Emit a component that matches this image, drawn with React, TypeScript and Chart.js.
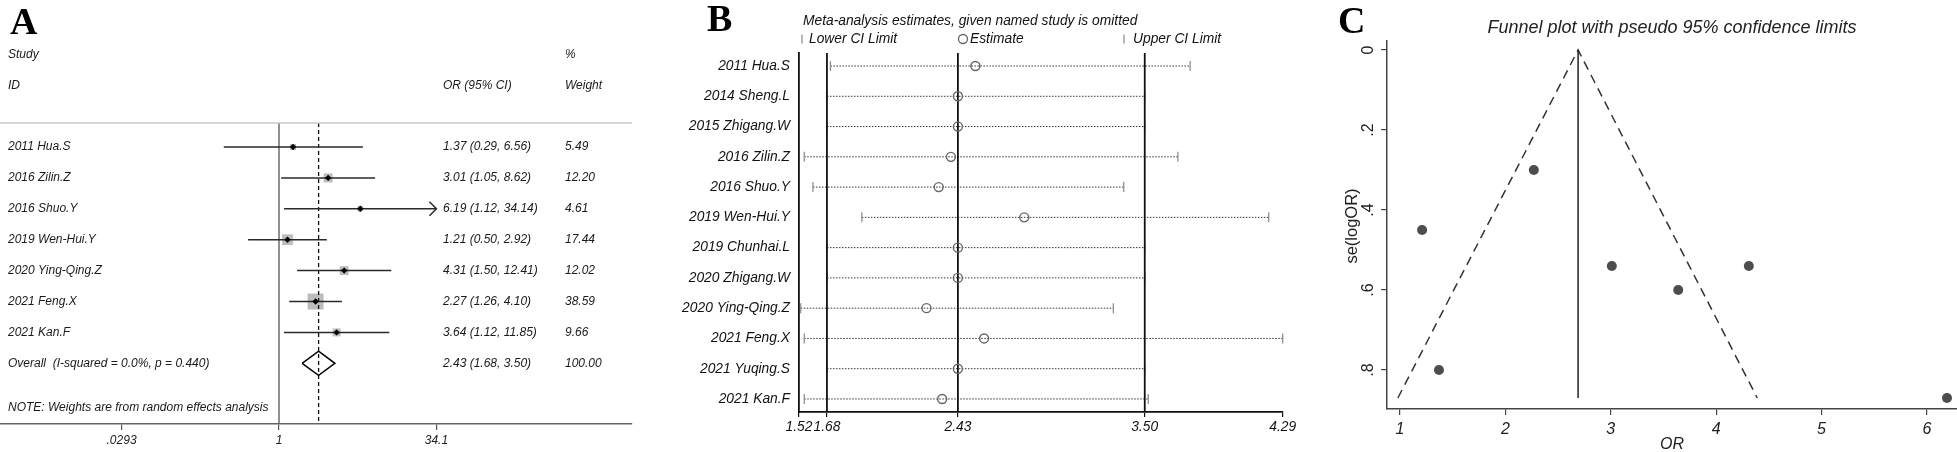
import React, { useEffect, useRef } from "react";
import { Chart, registerables } from "chart.js";

Chart.register(...registerables);

const SANS = '"Liberation Sans", Arial, Helvetica, sans-serif';
const SERIF = '"Liberation Serif", "Times New Roman", serif';

// ---------- Panel A: forest plot ----------
const A_STUDIES = ["2011 Hua.S", "2016 Zilin.Z", "2016 Shuo.Y", "2019 Wen-Hui.Y", "2020 Ying-Qing.Z", "2021 Feng.X", "2021 Kan.F"];
const A_OR = [1.37, 3.01, 6.19, 1.21, 4.31, 2.27, 3.64];
const A_LO = [0.29, 1.05, 1.12, 0.5, 1.5, 1.26, 1.12];
const A_HI = [6.56, 8.62, 34.14, 2.92, 12.41, 4.1, 11.85];
const A_WEIGHT = [5.49, 12.2, 4.61, 17.44, 12.02, 38.59, 9.66];
const A_OVERALL = [2.43, 1.68, 3.5]; // OR, lower, upper
const A_OVERALL_WEIGHT = 100.0;
const A_OVERALL_LABEL = "Overall  (I-squared = 0.0%, p = 0.440)";
const A_NOTE = "NOTE: Weights are from random effects analysis";
const A_TICKS = [0.0293, 1, 34.1];
const A_TICK_LABELS = [".0293", "1", "34.1"];

// ---------- Panel B: influence analysis ----------
const B_STUDIES = [
  "2011 Hua.S", "2014 Sheng.L", "2015 Zhigang.W", "2016 Zilin.Z", "2016 Shuo.Y", "2019 Wen-Hui.Y",
  "2019 Chunhai.L", "2020 Zhigang.W", "2020 Ying-Qing.Z", "2021 Feng.X", "2021 Yuqing.S", "2021 Kan.F",
];
const B_EST = [2.53, 2.43, 2.43, 2.39, 2.32, 2.81, 2.43, 2.43, 2.25, 2.58, 2.43, 2.34];
const B_LO = [1.7, 1.68, 1.68, 1.55, 1.6, 1.88, 1.68, 1.68, 1.53, 1.55, 1.68, 1.55];
const B_HI = [3.76, 3.5, 3.5, 3.69, 3.38, 4.21, 3.5, 3.5, 3.32, 4.29, 3.5, 3.52];
const B_REF = [1.68, 2.43, 3.5];
const B_TICKS = [1.52, 1.68, 2.43, 3.5, 4.29];
const B_TICK_LABELS = ["1.52", "1.68", "2.43", "3.50", "4.29"];
const B_TITLE = "Meta-analysis estimates, given named study is omitted";

// ---------- Panel C: funnel plot ----------
const C_OR = [1.37, 3.01, 6.19, 1.21, 4.31, 2.27, 3.64];
const C_SE = [0.8, 0.54, 0.87, 0.45, 0.54, 0.3, 0.6];
const C_FUNNEL_X = [0.98, 2.69, 4.39];
const C_FUNNEL_Y = [0.87, 0, 0.87];
const C_CENTER = 2.69;
const C_X_TICKS = [1, 2, 3, 4, 5, 6];
const C_Y_TICKS = [0, 0.2, 0.4, 0.6, 0.8];
const C_Y_TICK_LABELS = ["0", ".2", ".4", ".6", ".8"];
const C_TITLE = "Funnel plot with pseudo 95% confidence limits";

const f = (size: number, style = "italic", weight = "normal", family = SANS) => `${style} ${weight} ${size}px ${family}`;

const baseOptions = (padding: any) => ({
  animation: false as const,
  responsive: false,
  devicePixelRatio: 1,
  events: [] as any[],
  layout: { autoPadding: false, padding },
  plugins: { legend: { display: false }, tooltip: { enabled: false }, title: { display: false } },
});

function makeA(canvas: HTMLCanvasElement) {
  const yMin = -0.777;
  const yMax = 8.964;
  const n = A_STUDIES.length;
  const [ovOr, ovLo, ovHi] = A_OVERALL;
  const xMax = A_TICKS[A_TICKS.length - 1];
  const maxW = Math.max(...A_WEIGHT);
  const datasets: any[] = [
    { type: "line", data: [{ x: 1, y: yMin }, { x: 1, y: yMax }], borderColor: "#555", borderWidth: 1.3, pointRadius: 0, order: 10 },
    {
      type: "scatter",
      data: A_OR.map((v, i) => ({ x: v, y: i })),
      pointStyle: "rect",
      pointRadius: A_WEIGHT.map((w) => (16 * Math.sqrt(w / maxW)) / Math.SQRT2),
      backgroundColor: "#bdbdbd",
      borderColor: "#bdbdbd",
      borderWidth: 0,
      order: 8,
      clip: false,
    },
    { type: "line", data: [{ x: ovOr, y: yMin }, { x: ovOr, y: yMax }], borderColor: "#111", borderWidth: 1.3, borderDash: [4, 3], pointRadius: 0, order: 6 },
    ...A_OR.map((_, i) => ({
      type: "line",
      data: [{ x: A_LO[i], y: i }, { x: Math.min(A_HI[i], xMax), y: i }],
      borderColor: "#2a2a2a",
      borderWidth: 1.5,
      pointRadius: 0,
      order: 5,
    })),
    {
      type: "line",
      data: [{ x: ovLo, y: n }, { x: ovOr, y: n - 0.39 }, { x: ovHi, y: n }, { x: ovOr, y: n + 0.39 }, { x: ovLo, y: n }],
      borderColor: "#000",
      borderWidth: 1.5,
      pointRadius: 0,
      order: 4,
    },
    {
      type: "scatter",
      data: A_OR.map((v, i) => ({ x: v, y: i })),
      pointStyle: "rectRot",
      pointRadius: 3.2,
      backgroundColor: "#000",
      borderColor: "#000",
      borderWidth: 0,
      order: 1,
      clip: false,
    },
  ];

  const plugin = {
    id: "panelA",
    afterDraw(chart: any) {
      const { ctx, chartArea: ca } = chart;
      const x = chart.scales.x;
      const y = chart.scales.y;
      const yp = (v: number) => y.getPixelForValue(v);
      ctx.save();
      ctx.strokeStyle = "#c8c8c8";
      ctx.lineWidth = 1.5;
      ctx.beginPath();
      ctx.moveTo(ca.left, ca.top);
      ctx.lineTo(ca.right, ca.top);
      ctx.stroke();
      ctx.strokeStyle = "#2a2a2a";
      ctx.lineWidth = 1.5;
      A_HI.forEach((h, i) => {
        if (h > xMax) {
          const px = x.getPixelForValue(xMax);
          const py = yp(i);
          ctx.beginPath();
          ctx.moveTo(px - 7, py - 7);
          ctx.lineTo(px, py);
          ctx.lineTo(px - 7, py + 7);
          ctx.stroke();
        }
      });
      ctx.fillStyle = "#000";
      ctx.font = `bold 38px ${SERIF}`;
      ctx.textAlign = "left";
      ctx.textBaseline = "alphabetic";
      ctx.fillText("A", 10, 34);
      ctx.font = f(12);
      ctx.fillStyle = "#1a1a1a";
      ctx.textBaseline = "middle";
      const cLabel = 8;
      const cOr = 443;
      const cW = 565;
      ctx.fillText("Study", cLabel, yp(-3));
      ctx.fillText("%", cW, yp(-3));
      ctx.fillText("ID", cLabel, yp(-2));
      ctx.fillText("OR (95% CI)", cOr, yp(-2));
      ctx.fillText("Weight", cW, yp(-2));
      A_STUDIES.forEach((s, i) => {
        ctx.fillText(s, cLabel, yp(i));
        ctx.fillText(`${A_OR[i].toFixed(2)} (${A_LO[i].toFixed(2)}, ${A_HI[i].toFixed(2)})`, cOr, yp(i));
        ctx.fillText(A_WEIGHT[i].toFixed(2), cW, yp(i));
      });
      ctx.fillText(A_OVERALL_LABEL, cLabel, yp(n));
      ctx.fillText(`${ovOr.toFixed(2)} (${ovLo.toFixed(2)}, ${ovHi.toFixed(2)})`, cOr, yp(n));
      ctx.fillText(A_OVERALL_WEIGHT.toFixed(2), cW, yp(n));
      ctx.fillText(A_NOTE, cLabel, yp(n + 1.45));
      ctx.restore();
    },
  };

  return new Chart(canvas, {
    type: "scatter",
    data: { datasets },
    options: {
      ...baseOptions({ left: 0, right: 18, top: 123, bottom: 0 }),
      scales: {
        x: {
          type: "logarithmic",
          min: 0.00192,
          max: 2737,
          afterBuildTicks: (s: any) => {
            s.ticks = A_TICKS.map((v) => ({ value: v }));
          },
          afterFit: (s: any) => {
            s.height = 28;
          },
          ticks: {
            autoSkip: false,
            maxRotation: 0,
            minRotation: 0,
            padding: 3,
            color: "#222",
            font: { family: SANS, size: 12, style: "italic" },
            callback: (_v: any, i: number) => A_TICK_LABELS[i],
          },
          grid: { drawOnChartArea: false, drawTicks: true, tickLength: 6, color: "#555", lineWidth: 1.2 },
          border: { display: true, color: "#666", width: 1.5 },
        },
        y: { type: "linear", reverse: true, min: yMin, max: yMax, display: false },
      },
    } as any,
    plugins: [plugin],
  } as any);
}

function makeB(canvas: HTMLCanvasElement) {
  const yMin = -0.43;
  const yMax = 11.43;
  const datasets: any[] = [
    ...B_REF.map((v) => ({
      type: "line",
      data: [{ x: v, y: yMin }, { x: v, y: yMax }],
      borderColor: "#111",
      borderWidth: 1.8,
      pointRadius: 0,
      order: 2,
    })),
    ...B_STUDIES.map((_, i) => ({
      type: "line",
      data: [{ x: B_LO[i], y: i }, { x: B_HI[i], y: i }],
      borderColor: "#333",
      borderWidth: 1,
      borderDash: [1.5, 1.5],
      pointRadius: 0,
      order: 5,
    })),
    {
      type: "scatter",
      data: [...B_LO.map((v, i) => ({ x: v, y: i })), ...B_HI.map((v, i) => ({ x: v, y: i }))],
      pointStyle: "line",
      pointRotation: 90,
      rotation: 90,
      pointRadius: 5,
      borderColor: "#888",
      borderWidth: 1.2,
      order: 4,
      clip: false,
    },
    {
      type: "scatter",
      data: B_EST.map((v, i) => ({ x: v, y: i })),
      pointStyle: "circle",
      pointRadius: 4.5,
      backgroundColor: "rgba(0,0,0,0)",
      borderColor: "#666",
      borderWidth: 1.4,
      order: 1,
      clip: false,
    },
  ];

  const plugin = {
    id: "panelB",
    afterDraw(chart: any) {
      const { ctx } = chart;
      ctx.save();
      ctx.fillStyle = "#000";
      ctx.font = `bold 38px ${SERIF}`;
      ctx.textAlign = "left";
      ctx.textBaseline = "alphabetic";
      ctx.fillText("B", 57, 31);
      ctx.font = f(13.8);
      ctx.fillStyle = "#111";
      ctx.textBaseline = "middle";
      ctx.fillText(B_TITLE, 153, 21);
      const ly = 39;
      ctx.strokeStyle = "#888";
      ctx.lineWidth = 1.2;
      [152, 474].forEach((lx) => {
        ctx.beginPath();
        ctx.moveTo(lx, ly - 4.5);
        ctx.lineTo(lx, ly + 4.5);
        ctx.stroke();
      });
      ctx.fillText("Lower CI Limit", 159, ly);
      ctx.strokeStyle = "#666";
      ctx.lineWidth = 1.3;
      ctx.beginPath();
      ctx.arc(313, ly, 4.5, 0, Math.PI * 2);
      ctx.stroke();
      ctx.fillText("Estimate", 320, ly);
      ctx.fillText("Upper CI Limit", 483, ly);
      ctx.restore();
    },
  };

  return new Chart(canvas, {
    type: "scatter",
    data: { datasets },
    options: {
      ...baseOptions({ left: 0, right: 27.3, top: 53, bottom: 0 }),
      scales: {
        x: {
          type: "linear",
          min: B_TICKS[0],
          max: B_TICKS[B_TICKS.length - 1],
          afterBuildTicks: (s: any) => {
            s.ticks = B_TICKS.map((v) => ({ value: v }));
          },
          afterFit: (s: any) => {
            s.height = 40;
          },
          ticks: {
            autoSkip: false,
            maxRotation: 0,
            minRotation: 0,
            padding: 2,
            color: "#111",
            font: { family: SANS, size: 13.8, style: "italic" },
            callback: (_v: any, i: number) => B_TICK_LABELS[i],
          },
          grid: { drawOnChartArea: false, drawTicks: true, tickLength: 5, color: "#111", lineWidth: 1.2 },
          border: { display: true, color: "#111", width: 1.8 },
        },
        y: {
          type: "linear",
          reverse: true,
          min: yMin,
          max: yMax,
          afterBuildTicks: (s: any) => {
            s.ticks = B_STUDIES.map((_, i) => ({ value: i }));
          },
          afterFit: (s: any) => {
            s.width = 149;
          },
          ticks: {
            autoSkip: false,
            padding: 9,
            color: "#111",
            font: { family: SANS, size: 13.8, style: "italic" },
            callback: (_v: any, i: number) => B_STUDIES[i],
          },
          grid: { drawOnChartArea: false, drawTicks: false },
          border: { display: true, color: "#111", width: 1.8 },
        },
      },
    } as any,
    plugins: [plugin],
  } as any);
}

function makeC(canvas: HTMLCanvasElement) {
  const yMin = -0.0225;
  const yMax = 0.8975;
  const seMax = Math.max(...C_FUNNEL_Y);
  const datasets: any[] = [
    {
      type: "line",
      data: C_FUNNEL_X.map((x, i) => ({ x, y: C_FUNNEL_Y[i] })),
      borderColor: "#333",
      borderWidth: 1.5,
      borderDash: [9, 6],
      pointRadius: 0,
      order: 5,
    },
    {
      type: "line",
      data: [{ x: C_CENTER, y: 0 }, { x: C_CENTER, y: seMax }],
      borderColor: "#222",
      borderWidth: 1.5,
      pointRadius: 0,
      order: 4,
    },
    {
      type: "scatter",
      data: C_OR.map((x, i) => ({ x, y: C_SE[i] })),
      pointStyle: "circle",
      pointRadius: 5,
      backgroundColor: "#4d4d4d",
      borderColor: "#4d4d4d",
      borderWidth: 0,
      order: 1,
      clip: false,
    },
  ];

  const plugin = {
    id: "panelC",
    afterDraw(chart: any) {
      const { ctx, chartArea: ca } = chart;
      const y = chart.scales.y;
      ctx.save();
      ctx.fillStyle = "#000";
      ctx.font = `bold 38px ${SERIF}`;
      ctx.textAlign = "left";
      ctx.textBaseline = "alphabetic";
      ctx.fillText("C", 28, 33);
      const cx = (ca.left + ca.right) / 2;
      ctx.fillStyle = "#222";
      ctx.font = f(18);
      ctx.textAlign = "center";
      ctx.textBaseline = "middle";
      ctx.fillText(C_TITLE, cx, 28);
      ctx.font = f(16);
      ctx.fillText("OR", cx, 445);
      ctx.font = f(16, "normal");
      C_Y_TICKS.forEach((v, i) => {
        ctx.save();
        ctx.translate(59, y.getPixelForValue(v));
        ctx.rotate(-Math.PI / 2);
        ctx.fillText(C_Y_TICK_LABELS[i], 0, 0);
        ctx.restore();
      });
      ctx.font = f(16.5, "normal");
      ctx.save();
      ctx.translate(42, 226);
      ctx.rotate(-Math.PI / 2);
      ctx.fillText("se(logOR)", 0, 0);
      ctx.restore();
      ctx.restore();
    },
  };

  return new Chart(canvas, {
    type: "scatter",
    data: { datasets },
    options: {
      ...baseOptions({ left: 0, right: 0, top: 41, bottom: 0 }),
      scales: {
        x: {
          type: "linear",
          min: 0.877,
          max: 6.285,
          afterBuildTicks: (s: any) => {
            s.ticks = C_X_TICKS.map((v) => ({ value: v }));
          },
          afterFit: (s: any) => {
            s.height = 43;
          },
          ticks: {
            autoSkip: false,
            maxRotation: 0,
            minRotation: 0,
            padding: 5,
            color: "#222",
            font: { family: SANS, size: 16, style: "italic" },
            callback: (_v: any, i: number) => String(C_X_TICKS[i]),
          },
          grid: { drawOnChartArea: false, drawTicks: true, tickLength: 6, color: "#444", lineWidth: 1.2 },
          border: { display: true, color: "#444", width: 1.5 },
        },
        y: {
          type: "linear",
          reverse: true,
          min: yMin,
          max: yMax,
          afterBuildTicks: (s: any) => {
            s.ticks = C_Y_TICKS.map((v) => ({ value: v }));
          },
          afterFit: (s: any) => {
            s.width = 77;
          },
          ticks: { display: false, autoSkip: false },
          grid: { drawOnChartArea: false, drawTicks: true, tickLength: 6, color: "#444", lineWidth: 1.2 },
          border: { display: true, color: "#444", width: 1.5 },
        },
      },
    } as any,
    plugins: [plugin],
  } as any);
}

export default function App() {
  const aRef = useRef<HTMLCanvasElement>(null);
  const bRef = useRef<HTMLCanvasElement>(null);
  const cRef = useRef<HTMLCanvasElement>(null);

  useEffect(() => {
    const charts = [makeA(aRef.current!), makeB(bRef.current!), makeC(cRef.current!)];
    return () => charts.forEach((ch) => ch.destroy());
  }, []);

  return (
    <div style={{ position: "absolute", left: 0, top: 0, width: 1957, height: 452, background: "#fff", overflow: "hidden" }}>
      <canvas ref={aRef} width={650} height={452} style={{ position: "absolute", left: 0, top: 0 }} />
      <canvas ref={bRef} width={660} height={452} style={{ position: "absolute", left: 650, top: 0 }} />
      <canvas ref={cRef} width={647} height={452} style={{ position: "absolute", left: 1310, top: 0 }} />
    </div>
  );
}
